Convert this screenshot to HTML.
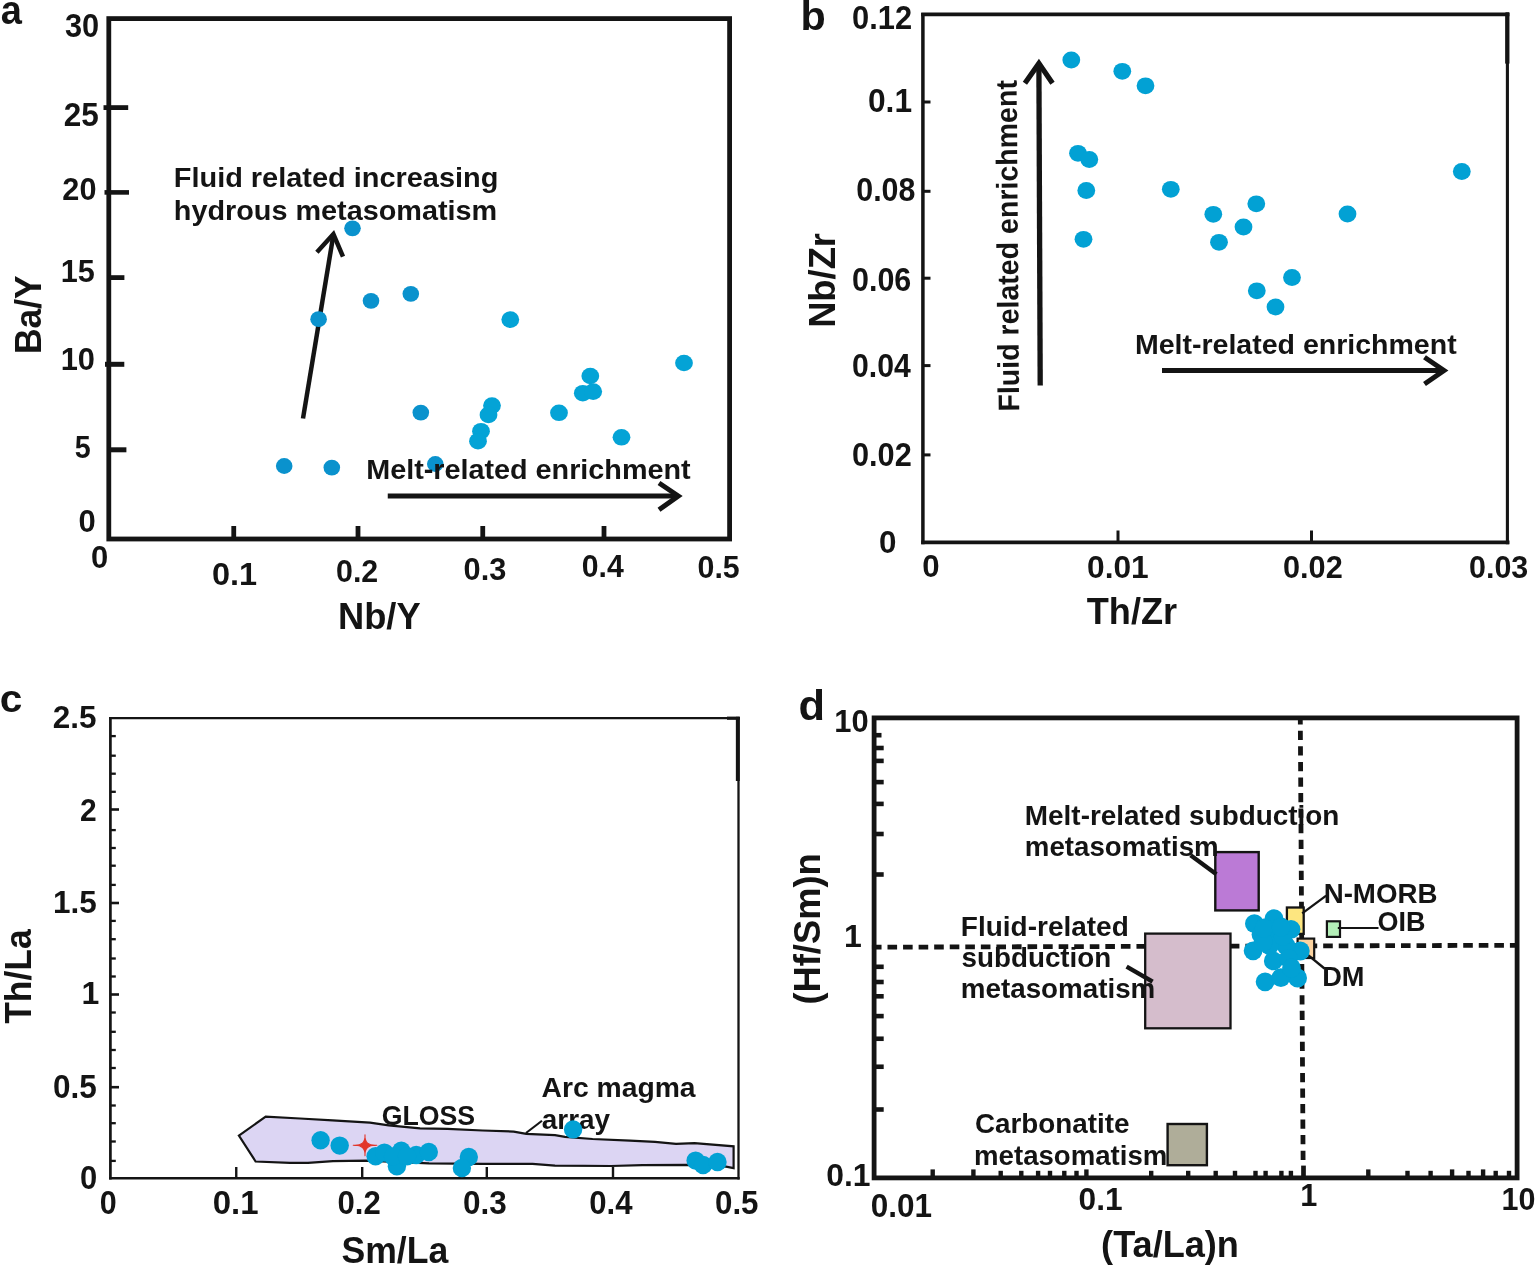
<!DOCTYPE html>
<html lang="en">
<head>
<meta charset="utf-8">
<title>Trace element ratio diagrams</title>
<style>
html,body{margin:0;padding:0;background:#fff;}
svg{display:block;}
text{font-family:"Liberation Sans",sans-serif;font-weight:bold;fill:#141414;}
line,polyline{stroke:#141414;fill:none;}
</style>
</head>
<body>
<svg width="1536" height="1266" viewBox="0 0 1536 1266">
<rect width="1536" height="1266" fill="#fff"/>

<g id="panel-a">
<rect x="108.8" y="18.6" width="620.8" height="520.4" fill="none" stroke="#141414" stroke-width="4.8"/>
<line x1="103.5" y1="107.6" x2="128.2" y2="107.6" stroke-width="4.8"/>
<line x1="104.5" y1="192.4" x2="129" y2="192.4" stroke-width="4.6"/>
<line x1="108" y1="277.6" x2="124.4" y2="277.6" stroke-width="4.8"/>
<line x1="105" y1="364.3" x2="124.3" y2="364.3" stroke-width="5"/>
<line x1="108" y1="449.8" x2="126.4" y2="449.8" stroke-width="5"/>
<line x1="233.75" y1="526" x2="233.75" y2="539" stroke-width="4.8"/>
<line x1="358" y1="526" x2="358" y2="539" stroke-width="4.8"/>
<line x1="482.75" y1="526" x2="482.75" y2="539" stroke-width="4.8"/>
<line x1="604" y1="526" x2="604" y2="539" stroke-width="4.8"/>
<line x1="303" y1="418.5" x2="333.2" y2="236" stroke-width="4.5"/>
<polyline points="316.9,252.2 333.4,234.1 343,256.7" stroke-width="4.5"/>
<line x1="387.75" y1="496" x2="677" y2="496" stroke-width="5"/>
<polyline points="659,483 678.3,496 659,509.75" stroke-width="5"/>
<ellipse cx="352.5" cy="228.3" rx="8.3" ry="7.9" fill="#0a92cd"/>
<ellipse cx="410.8" cy="293.8" rx="8.3" ry="7.9" fill="#0a92cd"/>
<ellipse cx="371" cy="300.8" rx="8.3" ry="7.9" fill="#0a92cd"/>
<ellipse cx="318.6" cy="319.2" rx="8.3" ry="7.9" fill="#0a92cd"/>
<ellipse cx="420.8" cy="412.6" rx="8.3" ry="7.9" fill="#0a92cd"/>
<ellipse cx="284.2" cy="466" rx="8.3" ry="7.9" fill="#0a92cd"/>
<ellipse cx="331.8" cy="467.6" rx="8.3" ry="7.9" fill="#0a92cd"/>
<ellipse cx="435.3" cy="464" rx="8.3" ry="7.9" fill="#0a92cd"/>
<ellipse cx="510.3" cy="319.6" rx="8.9" ry="8.3" fill="#04a3d6"/>
<ellipse cx="684" cy="363" rx="8.9" ry="8.3" fill="#04a3d6"/>
<ellipse cx="590.3" cy="376" rx="8.9" ry="8.3" fill="#04a3d6"/>
<ellipse cx="582.8" cy="393.2" rx="8.9" ry="8.3" fill="#04a3d6"/>
<ellipse cx="593.2" cy="391.6" rx="8.9" ry="8.3" fill="#04a3d6"/>
<ellipse cx="492" cy="405.6" rx="8.9" ry="8.3" fill="#04a3d6"/>
<ellipse cx="488.5" cy="414.9" rx="8.9" ry="8.3" fill="#04a3d6"/>
<ellipse cx="559" cy="412.8" rx="8.9" ry="8.3" fill="#04a3d6"/>
<ellipse cx="481" cy="431.2" rx="8.9" ry="8.3" fill="#04a3d6"/>
<ellipse cx="478" cy="441.2" rx="8.9" ry="8.3" fill="#04a3d6"/>
<ellipse cx="621.5" cy="437.3" rx="8.9" ry="8.3" fill="#04a3d6"/>
<text x="0.71" y="24" font-size="41.5" textLength="21.15" lengthAdjust="spacingAndGlyphs">a</text>
<text x="65.02" y="36.9" font-size="32.3" textLength="34.23" lengthAdjust="spacingAndGlyphs">30</text>
<text x="63.71" y="125.7" font-size="32.3" textLength="35.07" lengthAdjust="spacingAndGlyphs">25</text>
<text x="62.34" y="200.1" font-size="31.3" textLength="34.1" lengthAdjust="spacingAndGlyphs">20</text>
<text x="60.69" y="281.5" font-size="31.3" textLength="34.08" lengthAdjust="spacingAndGlyphs">15</text>
<text x="60.67" y="370" font-size="31.3" textLength="34.27" lengthAdjust="spacingAndGlyphs">10</text>
<text x="74.75" y="458.3" font-size="31.3" textLength="15.96" lengthAdjust="spacingAndGlyphs">5</text>
<text x="78.53" y="531.8" font-size="32" textLength="17.22" lengthAdjust="spacingAndGlyphs">0</text>
<text x="91.03" y="568" font-size="32" textLength="17.22" lengthAdjust="spacingAndGlyphs">0</text>
<text x="211.98" y="584.5" font-size="31.5" textLength="45.18" lengthAdjust="spacingAndGlyphs">0.1</text>
<text x="336.05" y="582" font-size="31.7" textLength="42.2" lengthAdjust="spacingAndGlyphs">0.2</text>
<text x="463.54" y="580.2" font-size="32" textLength="42.73" lengthAdjust="spacingAndGlyphs">0.3</text>
<text x="581.81" y="576.7" font-size="32" textLength="42" lengthAdjust="spacingAndGlyphs">0.4</text>
<text x="697.55" y="577.7" font-size="32" textLength="42.2" lengthAdjust="spacingAndGlyphs">0.5</text>
<text x="337.93" y="628.7" font-size="37.5" textLength="82.66" lengthAdjust="spacingAndGlyphs">Nb/Y</text>
<text x="41" y="354.12" font-size="37" transform="rotate(-90 41 354.12)" textLength="78.9" lengthAdjust="spacingAndGlyphs">Ba/Y</text>
<text x="173.79" y="187.4" font-size="27.5" textLength="324.56" lengthAdjust="spacingAndGlyphs">Fluid related increasing</text>
<text x="173.8" y="219.7" font-size="27.5" textLength="323.46" lengthAdjust="spacingAndGlyphs">hydrous metasomatism</text>
<text x="366.2" y="479" font-size="27.8" textLength="324.44" lengthAdjust="spacingAndGlyphs">Melt-related enrichment</text>
</g>
<g id="panel-b">
<line x1="922.9" y1="12.9" x2="922.9" y2="544.2" stroke-width="3.5" stroke="#1c1c1c"/>
<line x1="921.2" y1="542.4" x2="1509.5" y2="542.4" stroke-width="3.6" stroke="#1c1c1c"/>
<line x1="921.2" y1="14.45" x2="1509.4" y2="14.45" stroke-width="3.7" stroke="#1c1c1c"/>
<line x1="1507.4" y1="12.6" x2="1507.4" y2="544.2" stroke-width="3.1" stroke="#1c1c1c"/>
<line x1="1507.3" y1="12.6" x2="1507.3" y2="63.6" stroke-width="4.3"/>
<line x1="923" y1="102" x2="930.5" y2="102" stroke-width="3"/>
<line x1="923" y1="191.3" x2="930.5" y2="191.3" stroke-width="3"/>
<line x1="923" y1="278.2" x2="930.5" y2="278.2" stroke-width="3"/>
<line x1="923" y1="365.6" x2="930.5" y2="365.6" stroke-width="3"/>
<line x1="923" y1="454.9" x2="930.5" y2="454.9" stroke-width="3"/>
<line x1="1118" y1="530.5" x2="1118" y2="542" stroke-width="3"/>
<line x1="1311.5" y1="530.5" x2="1311.5" y2="542" stroke-width="3"/>
<text x="800.42" y="30.3" font-size="40" textLength="25.23" lengthAdjust="spacingAndGlyphs">b</text>
<text x="852.04" y="29" font-size="32.3" textLength="60.03" lengthAdjust="spacingAndGlyphs">0.12</text>
<text x="868.01" y="111.5" font-size="32.3" textLength="44.06" lengthAdjust="spacingAndGlyphs">0.1</text>
<text x="856.25" y="201" font-size="32.3" textLength="59.11" lengthAdjust="spacingAndGlyphs">0.08</text>
<text x="852.05" y="291" font-size="32.3" textLength="59.21" lengthAdjust="spacingAndGlyphs">0.06</text>
<text x="852.06" y="377" font-size="32.3" textLength="58.75" lengthAdjust="spacingAndGlyphs">0.04</text>
<text x="852.04" y="465.7" font-size="32.3" textLength="59.72" lengthAdjust="spacingAndGlyphs">0.02</text>
<text x="879.12" y="553.3" font-size="31.5" textLength="17.45" lengthAdjust="spacingAndGlyphs">0</text>
<text x="922.13" y="577.3" font-size="32" textLength="17.34" lengthAdjust="spacingAndGlyphs">0</text>
<text x="1087.01" y="578" font-size="32" textLength="61.76" lengthAdjust="spacingAndGlyphs">0.01</text>
<text x="1283.04" y="578.2" font-size="32" textLength="59.72" lengthAdjust="spacingAndGlyphs">0.02</text>
<text x="1469.05" y="578" font-size="32" textLength="59.21" lengthAdjust="spacingAndGlyphs">0.03</text>
<text x="1086.8" y="624.3" font-size="36.4" textLength="90.31" lengthAdjust="spacingAndGlyphs">Th/Zr</text>
<text x="835.5" y="327.87" font-size="37.5" transform="rotate(-90 835.5 327.87)" textLength="94.89" lengthAdjust="spacingAndGlyphs">Nb/Zr</text>
<text x="1019.2" y="411.53" font-size="29.8" transform="rotate(-90.44 1019.2 411.53)" textLength="331.47" lengthAdjust="spacingAndGlyphs">Fluid related enrichment</text>
<text x="1134.97" y="353.7" font-size="27.5" textLength="321.67" lengthAdjust="spacingAndGlyphs">Melt-related enrichment</text>
<line x1="1040.2" y1="385.5" x2="1038.9" y2="64.5" stroke-width="5.3"/>
<polyline points="1024.9,83.3 1038.9,63.4 1052.5,83.3" stroke-width="5.2"/>
<line x1="1162" y1="370.5" x2="1443" y2="370.5" stroke-width="5"/>
<polyline points="1424.5,357.25 1444,370.5 1424.5,384" stroke-width="5"/>
<ellipse cx="1071.3" cy="60" rx="8.9" ry="8.4" fill="#02a1d4"/>
<ellipse cx="1122.3" cy="71.3" rx="8.9" ry="8.4" fill="#02a1d4"/>
<ellipse cx="1145.5" cy="85.8" rx="8.9" ry="8.4" fill="#02a1d4"/>
<ellipse cx="1078" cy="153.3" rx="8.9" ry="8.4" fill="#02a1d4"/>
<ellipse cx="1089.3" cy="159.5" rx="8.9" ry="8.4" fill="#02a1d4"/>
<ellipse cx="1086.3" cy="190.5" rx="8.9" ry="8.4" fill="#02a1d4"/>
<ellipse cx="1083.5" cy="239.3" rx="8.9" ry="8.4" fill="#02a1d4"/>
<ellipse cx="1170.8" cy="189.3" rx="8.9" ry="8.4" fill="#02a1d4"/>
<ellipse cx="1213.3" cy="214.3" rx="8.9" ry="8.4" fill="#02a1d4"/>
<ellipse cx="1256.3" cy="203.8" rx="8.9" ry="8.4" fill="#02a1d4"/>
<ellipse cx="1243.5" cy="227" rx="8.9" ry="8.4" fill="#02a1d4"/>
<ellipse cx="1219" cy="242.3" rx="8.9" ry="8.4" fill="#02a1d4"/>
<ellipse cx="1347.5" cy="214" rx="8.9" ry="8.4" fill="#02a1d4"/>
<ellipse cx="1461.8" cy="171.5" rx="8.9" ry="8.4" fill="#02a1d4"/>
<ellipse cx="1292" cy="277.5" rx="8.9" ry="8.4" fill="#02a1d4"/>
<ellipse cx="1256.8" cy="290.8" rx="8.9" ry="8.4" fill="#02a1d4"/>
<ellipse cx="1275.5" cy="307" rx="8.9" ry="8.4" fill="#02a1d4"/>
</g>
<g id="panel-c">
<line x1="110.4" y1="717" x2="110.4" y2="1179.4" stroke-width="2.7" stroke="#2a2a2a"/>
<line x1="109.1" y1="718.2" x2="739.7" y2="718.2" stroke-width="2.3" stroke="#303030"/>
<line x1="738.5" y1="717" x2="738.5" y2="1179.4" stroke-width="2.3" stroke="#2c2c2c"/>
<line x1="109.1" y1="1178.2" x2="739.7" y2="1178.2" stroke-width="2.6" stroke="#262626"/>
<line x1="737.8" y1="716.8" x2="737.8" y2="781" stroke-width="3.9"/>
<line x1="727" y1="718.2" x2="739.7" y2="718.2" stroke-width="3.2"/>
<line x1="111" y1="736.1" x2="115.8" y2="736.1" stroke-width="2.3" stroke="#262626"/>
<line x1="111" y1="755.7" x2="115.8" y2="755.7" stroke-width="2.3" stroke="#262626"/>
<line x1="111" y1="773.7" x2="115.8" y2="773.7" stroke-width="2.3" stroke="#262626"/>
<line x1="111" y1="791.8" x2="115.8" y2="791.8" stroke-width="2.3" stroke="#262626"/>
<line x1="111" y1="809.5" x2="119" y2="809.5" stroke-width="2.6" stroke="#262626"/>
<line x1="111" y1="830.1" x2="115.8" y2="830.1" stroke-width="2.3" stroke="#262626"/>
<line x1="111" y1="848" x2="115.8" y2="848" stroke-width="2.3" stroke="#262626"/>
<line x1="111" y1="865.7" x2="115.8" y2="865.7" stroke-width="2.3" stroke="#262626"/>
<line x1="111" y1="884.9" x2="115.8" y2="884.9" stroke-width="2.3" stroke="#262626"/>
<line x1="111" y1="903" x2="119" y2="903" stroke-width="2.6" stroke="#262626"/>
<line x1="111" y1="920.9" x2="115.8" y2="920.9" stroke-width="2.3" stroke="#262626"/>
<line x1="111" y1="939.2" x2="115.8" y2="939.2" stroke-width="2.3" stroke="#262626"/>
<line x1="111" y1="958.5" x2="115.8" y2="958.5" stroke-width="2.3" stroke="#262626"/>
<line x1="111" y1="976.5" x2="115.8" y2="976.5" stroke-width="2.3" stroke="#262626"/>
<line x1="111" y1="994.5" x2="119" y2="994.5" stroke-width="2.6" stroke="#262626"/>
<line x1="111" y1="1012.5" x2="115.8" y2="1012.5" stroke-width="2.3" stroke="#262626"/>
<line x1="111" y1="1031.8" x2="115.8" y2="1031.8" stroke-width="2.3" stroke="#262626"/>
<line x1="111" y1="1050" x2="115.8" y2="1050" stroke-width="2.3" stroke="#262626"/>
<line x1="111" y1="1068" x2="115.8" y2="1068" stroke-width="2.3" stroke="#262626"/>
<line x1="111" y1="1087.2" x2="119" y2="1087.2" stroke-width="2.6" stroke="#262626"/>
<line x1="111" y1="1105.5" x2="115.8" y2="1105.5" stroke-width="2.3" stroke="#262626"/>
<line x1="111" y1="1123.2" x2="115.8" y2="1123.2" stroke-width="2.3" stroke="#262626"/>
<line x1="111" y1="1141.5" x2="115.8" y2="1141.5" stroke-width="2.3" stroke="#262626"/>
<line x1="111" y1="1160.9" x2="115.8" y2="1160.9" stroke-width="2.3" stroke="#262626"/>
<line x1="236.25" y1="1167" x2="236.25" y2="1178" stroke-width="2.4" stroke="#262626"/>
<line x1="362.2" y1="1167" x2="362.2" y2="1178" stroke-width="2.4" stroke="#262626"/>
<line x1="486.8" y1="1167" x2="486.8" y2="1178" stroke-width="2.4" stroke="#262626"/>
<line x1="613" y1="1167" x2="613" y2="1178" stroke-width="2.4" stroke="#262626"/>
<polygon points="238.9,1135.6 265.7,1116.6 300,1118.5 332.5,1120.3 370,1122.6 388.75,1125.4 420,1128.3 447.5,1128.8 482.5,1130.5 513.75,1131.6 526.25,1133.9 555,1135.2 565,1136.8 592.5,1139 630,1140.6 655,1141.9 676,1143.8 694.5,1143.2 733.6,1146.3 733.6,1168.2 726,1166.7 687.5,1164.8 642.5,1165.1 611,1166 555,1165.6 532.5,1163.9 482.5,1163.8 429,1163.4 366,1160.7 333,1161.2 308,1162.9 290,1162.9 255.6,1161.5" fill="#dcd5f3" stroke="#141414" stroke-width="2.2" stroke-linejoin="miter"/>
<line x1="526" y1="1133" x2="542" y2="1120.75" stroke-width="2.2"/>
<text x="-0.27" y="712" font-size="39" textLength="22.58" lengthAdjust="spacingAndGlyphs">c</text>
<text x="52.77" y="727.9" font-size="31.5" textLength="43.77" lengthAdjust="spacingAndGlyphs">2.5</text>
<text x="80.06" y="820.9" font-size="31.5" textLength="16.68" lengthAdjust="spacingAndGlyphs">2</text>
<text x="53.03" y="913.4" font-size="31.5" textLength="43.75" lengthAdjust="spacingAndGlyphs">1.5</text>
<text x="81.5" y="1004.3" font-size="32">1</text>
<text x="53.02" y="1097.7" font-size="32.5" textLength="43.77" lengthAdjust="spacingAndGlyphs">0.5</text>
<text x="80.03" y="1189" font-size="32.5" textLength="17.22" lengthAdjust="spacingAndGlyphs">0</text>
<text x="99.8" y="1214.4" font-size="33" textLength="16.94" lengthAdjust="spacingAndGlyphs">0</text>
<text x="212.72" y="1214.4" font-size="33" textLength="45.77" lengthAdjust="spacingAndGlyphs">0.1</text>
<text x="337.53" y="1214.4" font-size="33" textLength="43.25" lengthAdjust="spacingAndGlyphs">0.2</text>
<text x="463.02" y="1214.4" font-size="33" textLength="43.77" lengthAdjust="spacingAndGlyphs">0.3</text>
<text x="589.28" y="1214.4" font-size="33" textLength="43.28" lengthAdjust="spacingAndGlyphs">0.4</text>
<text x="715.02" y="1214.4" font-size="33" textLength="43.51" lengthAdjust="spacingAndGlyphs">0.5</text>
<text x="341.44" y="1262.8" font-size="37.5" textLength="106.83" lengthAdjust="spacingAndGlyphs">Sm/La</text>
<text x="30.8" y="1023.8" font-size="37.5" transform="rotate(-90 30.8 1023.8)" textLength="94.48" lengthAdjust="spacingAndGlyphs">Th/La</text>
<text x="381.67" y="1124.9" font-size="27.6" textLength="93.44" lengthAdjust="spacingAndGlyphs">GLOSS</text>
<text x="541.46" y="1097.4" font-size="27.5" textLength="154.16" lengthAdjust="spacingAndGlyphs">Arc magma</text>
<text x="541.76" y="1128.75" font-size="27.5" textLength="68.36" lengthAdjust="spacingAndGlyphs">array</text>
<path d="M365,1134.8 Q364.1,1146.2 376.8,1145.3 Q364.1,1144.4 365,1155.8 Q365.9,1144.4 353.2,1145.3 Q365.9,1146.2 365,1134.8 Z" fill="#e2362b" stroke="#e2362b" stroke-width="1.1" stroke-linejoin="round"/>
<ellipse cx="320.6" cy="1140.2" rx="9.2" ry="9.2" fill="#02a1d4"/>
<ellipse cx="339.7" cy="1145.6" rx="9.2" ry="9.2" fill="#02a1d4"/>
<ellipse cx="375.6" cy="1156.2" rx="9.2" ry="9.2" fill="#02a1d4"/>
<ellipse cx="384.4" cy="1152.6" rx="9.2" ry="9.2" fill="#02a1d4"/>
<ellipse cx="401.3" cy="1150.8" rx="9.2" ry="9.2" fill="#02a1d4"/>
<ellipse cx="396.9" cy="1166.2" rx="9.2" ry="9.2" fill="#02a1d4"/>
<ellipse cx="416.2" cy="1155" rx="9.2" ry="9.2" fill="#02a1d4"/>
<ellipse cx="428.8" cy="1152" rx="9.2" ry="9.2" fill="#02a1d4"/>
<ellipse cx="393" cy="1156.5" rx="9.2" ry="9.2" fill="#02a1d4"/>
<ellipse cx="407" cy="1156.2" rx="9.2" ry="9.2" fill="#02a1d4"/>
<ellipse cx="468.8" cy="1156.9" rx="9.2" ry="9.2" fill="#02a1d4"/>
<ellipse cx="461.9" cy="1168" rx="9.2" ry="9.2" fill="#02a1d4"/>
<ellipse cx="573.1" cy="1129.4" rx="9.2" ry="9.2" fill="#02a1d4"/>
<ellipse cx="695.6" cy="1160.6" rx="9.2" ry="9.2" fill="#02a1d4"/>
<ellipse cx="703.1" cy="1165" rx="9.2" ry="9.2" fill="#02a1d4"/>
<ellipse cx="717.5" cy="1162" rx="9.2" ry="9.2" fill="#02a1d4"/>
</g>
<g id="panel-d">
<line x1="871.94" y1="947.2" x2="1515" y2="945.3" stroke-width="4.8" stroke-dasharray="9.6 5.96"/>
<line x1="1300.3" y1="719.3" x2="1303.1" y2="1160.2" stroke-width="4.8" stroke-dasharray="9.25 6.3" stroke-dashoffset="4.05"/>
<line x1="1303.5" y1="1165.6" x2="1303.5" y2="1177" stroke-width="4.7"/>
<rect x="1145.2" y="933.6" width="85.3" height="94.7" fill="#d5bdcc" stroke="#141414" stroke-width="2.3"/>
<rect x="1215.3" y="852.1" width="43.4" height="58.3" fill="#bb7ad6" stroke="#141414" stroke-width="2.4"/>
<rect x="1167.6" y="1124" width="39.3" height="41.2" fill="#afad99" stroke="#141414" stroke-width="2.4"/>
<rect x="1286.9" y="907.5" width="16.8" height="26.4" fill="#fde680" stroke="#141414" stroke-width="2.3"/>
<rect x="1297.6" y="938.6" width="16.6" height="19.4" fill="#fbd3a0" stroke="#141414" stroke-width="2.2"/>
<rect x="1326.9" y="921.3" width="13.1" height="15.6" fill="#b4efb8" stroke="#141414" stroke-width="2.2"/>
<rect x="874.1" y="717.9" width="643" height="460" fill="none" stroke="#141414" stroke-width="4.8"/>
<line x1="875" y1="735.2" x2="881.5" y2="735.2" stroke-width="4.6"/>
<line x1="875" y1="748" x2="883.7" y2="748" stroke-width="4.6"/>
<line x1="875" y1="760.9" x2="883.7" y2="760.9" stroke-width="4.6"/>
<line x1="875" y1="782.1" x2="883.7" y2="782.1" stroke-width="4.6"/>
<line x1="875" y1="803.9" x2="883.7" y2="803.9" stroke-width="4.6"/>
<line x1="875" y1="834" x2="883.7" y2="834" stroke-width="4.6"/>
<line x1="875" y1="874.5" x2="883.7" y2="874.5" stroke-width="4.6"/>
<line x1="875" y1="966.8" x2="883.7" y2="966.8" stroke-width="4.6"/>
<line x1="875" y1="982" x2="883.7" y2="982" stroke-width="4.6"/>
<line x1="875" y1="996.3" x2="883.7" y2="996.3" stroke-width="4.6"/>
<line x1="875" y1="1016.1" x2="883.7" y2="1016.1" stroke-width="4.6"/>
<line x1="875" y1="1038.75" x2="883.7" y2="1038.75" stroke-width="4.6"/>
<line x1="875" y1="1066.75" x2="883.7" y2="1066.75" stroke-width="4.6"/>
<line x1="875" y1="1109.5" x2="883.7" y2="1109.5" stroke-width="4.6"/>
<line x1="932.7" y1="1169.4" x2="932.7" y2="1177" stroke-width="4.4"/>
<line x1="973.4" y1="1169.4" x2="973.4" y2="1177" stroke-width="4.4"/>
<line x1="1000.7" y1="1170.8" x2="1000.7" y2="1177" stroke-width="4.4"/>
<line x1="1021.3" y1="1170.8" x2="1021.3" y2="1177" stroke-width="4.4"/>
<line x1="1038.1" y1="1170.8" x2="1038.1" y2="1177" stroke-width="4.4"/>
<line x1="1050" y1="1170.8" x2="1050" y2="1177" stroke-width="4.4"/>
<line x1="1064.3" y1="1170.8" x2="1064.3" y2="1177" stroke-width="4.4"/>
<line x1="1076.5" y1="1170.8" x2="1076.5" y2="1177" stroke-width="4.4"/>
<line x1="1086.4" y1="1169.4" x2="1086.4" y2="1177" stroke-width="4.4"/>
<line x1="1151.2" y1="1170.8" x2="1151.2" y2="1177" stroke-width="4.4"/>
<line x1="1188.2" y1="1170.8" x2="1188.2" y2="1177" stroke-width="4.4"/>
<line x1="1215.7" y1="1170.8" x2="1215.7" y2="1177" stroke-width="4.4"/>
<line x1="1235" y1="1170.8" x2="1235" y2="1177" stroke-width="4.4"/>
<line x1="1255.5" y1="1170.8" x2="1255.5" y2="1177" stroke-width="4.4"/>
<line x1="1265.6" y1="1170.8" x2="1265.6" y2="1177" stroke-width="4.4"/>
<line x1="1281.4" y1="1170.8" x2="1281.4" y2="1177" stroke-width="4.4"/>
<line x1="1290.9" y1="1170.8" x2="1290.9" y2="1177" stroke-width="4.4"/>
<line x1="1368.3" y1="1169.4" x2="1368.3" y2="1177" stroke-width="4.4"/>
<line x1="1407.5" y1="1170.8" x2="1407.5" y2="1177" stroke-width="4.4"/>
<line x1="1430.6" y1="1170.8" x2="1430.6" y2="1177" stroke-width="4.4"/>
<line x1="1452.1" y1="1169.4" x2="1452.1" y2="1177" stroke-width="4.4"/>
<line x1="1468.5" y1="1170.8" x2="1468.5" y2="1177" stroke-width="4.4"/>
<line x1="1483.1" y1="1169.4" x2="1483.1" y2="1177" stroke-width="4.4"/>
<line x1="1495.7" y1="1170.8" x2="1495.7" y2="1177" stroke-width="4.4"/>
<line x1="1509" y1="1170.8" x2="1509" y2="1177" stroke-width="4.4"/>
<line x1="1190.6" y1="855.2" x2="1216.4" y2="874.2" stroke-width="4.3"/>
<line x1="1302.2" y1="913.4" x2="1326.2" y2="895.6" stroke-width="2.3"/>
<line x1="1337.8" y1="928" x2="1378.5" y2="928" stroke-width="2.1"/>
<line x1="1307.5" y1="954.6" x2="1324.5" y2="968.5" stroke-width="2.4"/>
<line x1="1126.6" y1="966.6" x2="1152.6" y2="981.6" stroke-width="4.4"/>
<text x="798.64" y="719.5" font-size="42" textLength="26.54" lengthAdjust="spacingAndGlyphs">d</text>
<text x="834.37" y="731.8" font-size="32" textLength="34.38" lengthAdjust="spacingAndGlyphs">10</text>
<text x="844" y="947.2" font-size="32">1</text>
<text x="826.2" y="1186" font-size="32" textLength="44.29" lengthAdjust="spacingAndGlyphs">0.1</text>
<text x="870.82" y="1217.3" font-size="32.5" textLength="61.32" lengthAdjust="spacingAndGlyphs">0.01</text>
<text x="1078.51" y="1209.7" font-size="32" textLength="44.06" lengthAdjust="spacingAndGlyphs">0.1</text>
<text x="1300.18" y="1206.1" font-size="30.7">1</text>
<text x="1501.59" y="1210" font-size="32" textLength="33.94" lengthAdjust="spacingAndGlyphs">10</text>
<text x="1101.11" y="1256.8" font-size="36.7" textLength="137.84" lengthAdjust="spacingAndGlyphs">(Ta/La)n</text>
<text x="820.2" y="1004.6" font-size="36.5" transform="rotate(-90 820.2 1004.6)" textLength="151.36" lengthAdjust="spacingAndGlyphs">(Hf/Sm)n</text>
<text x="1024.86" y="825" font-size="28" textLength="314.49" lengthAdjust="spacingAndGlyphs">Melt-related subduction</text>
<text x="1024.87" y="856" font-size="28" textLength="193.82" lengthAdjust="spacingAndGlyphs">metasomatism</text>
<text x="960.85" y="935.7" font-size="27.5" textLength="167.94" lengthAdjust="spacingAndGlyphs">Fluid-related</text>
<text x="961.53" y="966.8" font-size="27.5" textLength="149.81" lengthAdjust="spacingAndGlyphs">subduction</text>
<text x="960.86" y="997.6" font-size="27.5" textLength="194.43" lengthAdjust="spacingAndGlyphs">metasomatism</text>
<text x="974.93" y="1133.1" font-size="27.8" textLength="154.56" lengthAdjust="spacingAndGlyphs">Carbonatite</text>
<text x="974.07" y="1164.5" font-size="27.8" textLength="193.31" lengthAdjust="spacingAndGlyphs">metasomatism</text>
<text x="1323.67" y="903.2" font-size="27.2" textLength="113.79" lengthAdjust="spacingAndGlyphs">N-MORB</text>
<text x="1377.46" y="931.4" font-size="27.2" textLength="47.98" lengthAdjust="spacingAndGlyphs">OIB</text>
<text x="1322.2" y="986.2" font-size="27.6" textLength="42.31" lengthAdjust="spacingAndGlyphs">DM</text>
<ellipse cx="1254.4" cy="923.6" rx="9.4" ry="9.4" fill="#02a1d4"/>
<ellipse cx="1274" cy="918.6" rx="9.4" ry="9.4" fill="#02a1d4"/>
<ellipse cx="1291" cy="929.3" rx="9.4" ry="9.4" fill="#02a1d4"/>
<ellipse cx="1253.1" cy="950.8" rx="9.4" ry="9.4" fill="#02a1d4"/>
<ellipse cx="1300.3" cy="951" rx="9.4" ry="9.4" fill="#02a1d4"/>
<ellipse cx="1273.3" cy="960.9" rx="9.4" ry="9.4" fill="#02a1d4"/>
<ellipse cx="1265.1" cy="981.8" rx="9.4" ry="9.4" fill="#02a1d4"/>
<ellipse cx="1297.6" cy="978" rx="9.4" ry="9.4" fill="#02a1d4"/>
<ellipse cx="1280.9" cy="977.6" rx="9.4" ry="9.4" fill="#02a1d4"/>
<ellipse cx="1261" cy="934.6" rx="9.4" ry="9.4" fill="#02a1d4"/>
<ellipse cx="1276" cy="937" rx="9.4" ry="9.4" fill="#02a1d4"/>
<ellipse cx="1286" cy="945.7" rx="9.4" ry="9.4" fill="#02a1d4"/>
<ellipse cx="1269.5" cy="945.7" rx="9.4" ry="9.4" fill="#02a1d4"/>
<ellipse cx="1288.5" cy="958.4" rx="9.4" ry="9.4" fill="#02a1d4"/>
<ellipse cx="1291.5" cy="968" rx="9.4" ry="9.4" fill="#02a1d4"/>
<ellipse cx="1263" cy="942" rx="9.4" ry="9.4" fill="#02a1d4"/>
<ellipse cx="1283" cy="936" rx="9.4" ry="9.4" fill="#02a1d4"/>
<ellipse cx="1264" cy="928" rx="9.4" ry="9.4" fill="#02a1d4"/>
<ellipse cx="1281" cy="927" rx="9.4" ry="9.4" fill="#02a1d4"/>
</g>
</svg>
</body>
</html>
